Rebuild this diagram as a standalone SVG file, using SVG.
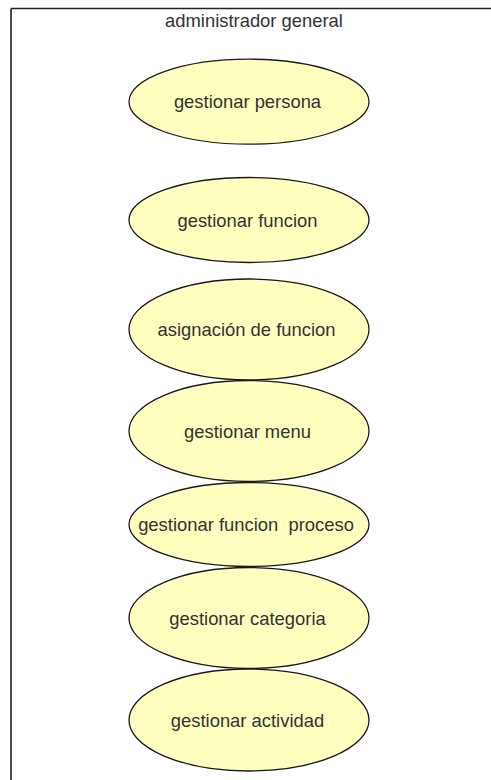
<svg xmlns="http://www.w3.org/2000/svg" width="491" height="780" viewBox="0 0 491 780">
<style>
.uc{fill:#ffffc0;stroke:#1a1a1a;stroke-width:1.3}
.lbl{font-family:"Liberation Sans",Arial,sans-serif;font-size:18.4px;fill:#333;text-anchor:middle;white-space:pre}
.frame{fill:none;stroke:#222;stroke-width:1.6}
</style>
<rect width="491" height="780" fill="#fff"/>
<g id="system">
<path class="frame" d="M11,8.5 H491 M11,8.5 V780"/>
<text class="lbl" x="254" y="27">administrador general</text>
</g>
<g id="connectors"></g>
<g id="uc1"><ellipse class="uc" cx="249" cy="101.7" rx="120" ry="42.5"/><text class="lbl" x="247.5" y="108.3">gestionar persona</text></g>
<g id="uc2"><ellipse class="uc" cx="249" cy="220" rx="120" ry="42.5"/><text class="lbl" x="247.5" y="226.5">gestionar funcion</text></g>
<g id="uc3"><ellipse class="uc" cx="249" cy="329.5" rx="120" ry="50.5"/><text class="lbl" x="246.5" y="336">asignación de funcion</text></g>
<g id="uc4"><ellipse class="uc" cx="249" cy="431" rx="120" ry="50.5"/><text class="lbl" x="247.5" y="437.5">gestionar menu</text></g>
<g id="uc5"><ellipse class="uc" cx="249" cy="524.5" rx="120" ry="42"/><text class="lbl" x="246" y="531">gestionar funcion  proceso</text></g>
<g id="uc6"><ellipse class="uc" cx="249" cy="618" rx="120" ry="50.5"/><text class="lbl" x="247.5" y="624.5">gestionar categoria</text></g>
<g id="uc7"><ellipse class="uc" cx="249" cy="720" rx="120" ry="51"/><text class="lbl" x="247.5" y="726.5">gestionar actividad</text></g>
</svg>
